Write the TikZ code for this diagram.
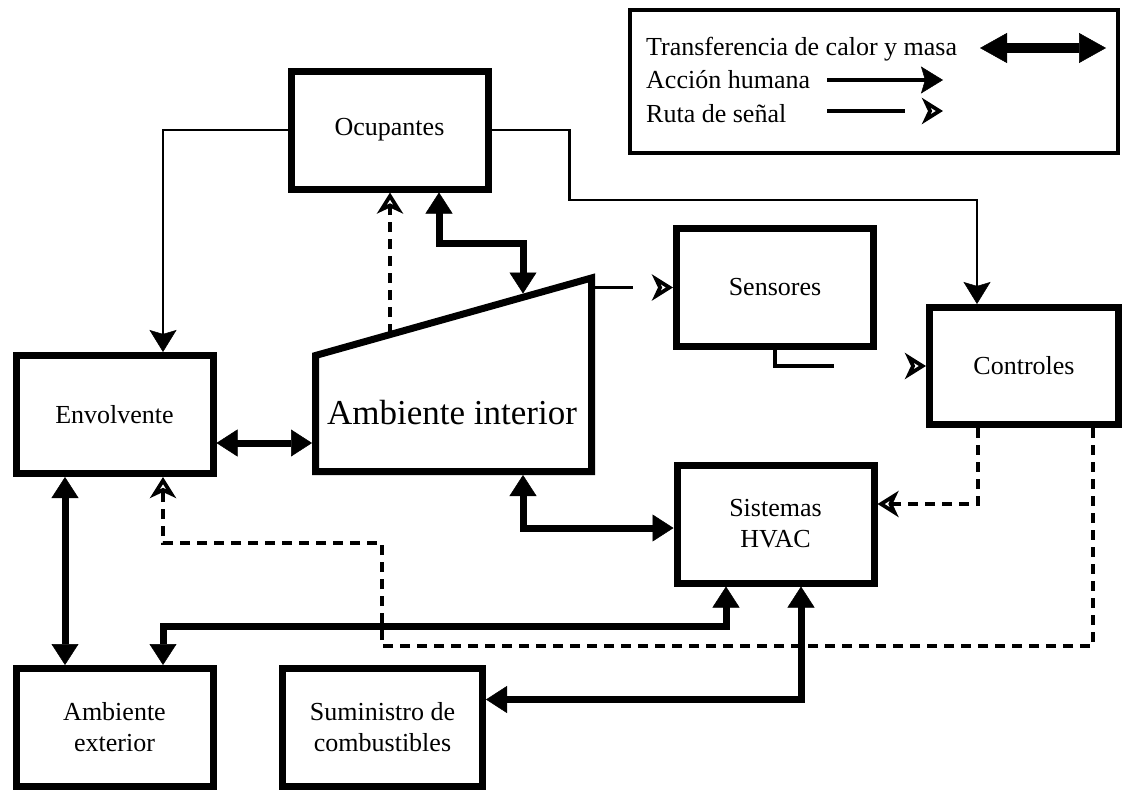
\documentclass[tikz,border=0pt]{standalone}
\usepackage{fontspec}
\setmainfont{Liberation Serif}
\usetikzlibrary{arrows.meta}
\begin{document}
\begin{tikzpicture}[x=1pt,y=-1pt,
  heattip/.tip={Triangle[length=21pt,width=27pt,line width=0.5pt]},
  legheattip/.tip={Triangle[length=27pt,width=30pt,line width=0.5pt]},
  humtip/.tip={Stealth[length=22pt,width=27pt,inset=4pt,line width=0.5pt]},
  sigtip/.tip={Stealth[open,length=21pt,width=26pt,inset=6pt,line width=4pt]},
  box/.style={draw, line width=7pt, minimum width=197pt, minimum height=118pt,
    inner sep=0pt, align=center, font=\fontsize{26}{31}\selectfont},
  heat/.style={line width=7pt, heattip-heattip},
  human/.style={line width=2.8pt, -humtip},
  sigdash/.style={line width=3.5pt, dash pattern=on 10pt off 7pt, -sigtip},
  sigshort/.style={line width=3.5pt, -sigtip},
  legtxt/.style={font=\fontsize{26}{31}\selectfont, inner sep=0pt, anchor=base west}
]
\useasboundingbox (0,0) rectangle (1125,790);

% legend
\node[draw, line width=4pt, minimum width=488pt, minimum height=143pt, inner sep=0pt] (leg) at (874,81.5) {};
\node[legtxt] (l1) at (646,55) {Transferencia de calor y masa};
\node[legtxt] (l2) at (646,88) {Acción humana};
\node[legtxt] (l3) at (646,122) {Ruta de señal};
\coordinate (l1a) at (980,48);
\coordinate (l1b) at (1106,48);
\coordinate (l2a) at (827,80);
\coordinate (l2b) at (943,80);
\coordinate (l3a) at (827,111);
\coordinate (l3b) at (943,111);
\draw[line width=10pt, legheattip-legheattip] (l1a) -- (l1b);
\draw[line width=4pt, -humtip] (l2a) -- (l2b);
\draw[line width=4pt, -sigtip, dash pattern=on 78pt off 300pt] (l3a) -- (l3b);

% boxes
\node[box] (ocu) at (389.5,130) {Ocupantes};
\node[box] (sen) at (775,287.5) {Sensores};
\node[box, minimum width=189pt, minimum height=117pt] (ctl) at (1024,366) {Controles};
\node[box] (env) at (114.5,414.5) {Envolvente};
\node[box] (hvac) at (775.5,524) {Sistemas\\HVAC};
\node[box] (ext) at (114.5,727.5) {Ambiente\\exterior};
\node[box, minimum width=200pt] (sum) at (382.5,727.5) {Suministro de\\combustibles};

% ambiente interior (trapezoid)
\draw[line width=7pt, line join=miter] (315.5,471.5) -- (315.5,355.5) -- (591.5,278) -- (591.5,471.5) -- cycle;
\node[font=\fontsize{35}{40}\selectfont, inner sep=0pt] (amb) at (452,413) {Ambiente interior};
\coordinate (ambL) at (312,443);
\coordinate (ambB) at (523,475);
\coordinate (ambR) at (595,287.5);
\coordinate (tp523) at (523,293.5);
\coordinate (tp390) at (390,334);

% heat and mass transfer
\draw[heat] ([xshift=49.5pt]ocu.south) -- ++(0,51) -| (tp523);
\draw[heat] ([yshift=-28.5pt]env.east) -- (ambL);
\draw[heat] ([xshift=-49.5pt]env.south) -- ([xshift=-49.5pt]ext.north);
\draw[heat] (ambB) |- ([yshift=-4pt]hvac.west);
\draw[heat] ([xshift=-49.5pt]hvac.south) -- ++(0,40) -| ([xshift=48.5pt]ext.north);
\draw[heat] ([xshift=25.5pt]hvac.south) |- ([yshift=28pt]sum.east);

% human action
\draw[human] (ocu.west) -| ([xshift=48.5pt]env.north);
\draw[human] (ocu.east) -- ++(78,0) -- ++(0,70) -| ([xshift=-47pt]ctl.north);

% signal paths
\draw[sigdash] (tp390) -- (tp390 |- ocu.south);
\draw[sigshort, dash pattern=on 38pt off 300pt] (ambR) -- (sen.west);
\draw[sigshort, dash pattern=on 75pt off 300pt] (sen.south) |- (ctl.west);
\draw[sigdash] ([xshift=-46pt]ctl.south) |- ([yshift=20pt]hvac.east);
\draw[sigdash] ([xshift=69pt]ctl.south) -- ++(0,218) -- ++(-711,0) -- ++(0,-103) -| ([xshift=48.5pt]env.south);
\end{tikzpicture}
\end{document}
